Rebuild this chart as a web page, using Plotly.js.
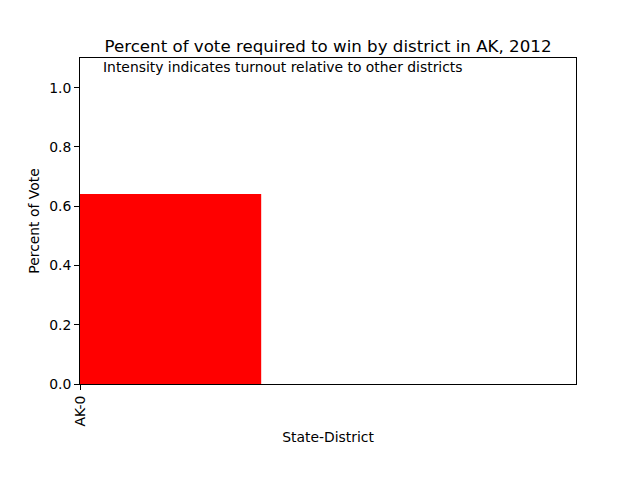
<!DOCTYPE html>
<html>
<head>
<meta charset="utf-8">
<script src="https://cdn.plot.ly/plotly-3.0.1.min.js"></script>
<style>html,body{margin:0;padding:0;background:#fff;}#chart{width:640px;height:480px;}</style>
</head>
<body>
<div id="chart"></div>
<script>
const districts = ['AK-0'];
const positions = [0];
const votePct = [0.641];
const barColors = ['rgb(255,0,0)'];

const barWidth = 0.8;

const trace = {
  type: 'bar',
  x: positions.map(p => p + barWidth / 2),
  y: votePct,
  width: districts.map(() => barWidth),
  marker: {color: barColors, line: {width: 0}},
  hoverinfo: 'skip'
};

const font = {family: 'DejaVu Sans, sans-serif', color: '#000'};
const fs = 13.9;

const layout = {
  width: 640, height: 480,
  margin: {l: 80, r: 64, t: 58, b: 96, pad: 0},
  paper_bgcolor: '#fff', plot_bgcolor: '#fff',
  showlegend: false,
  font: Object.assign({size: fs}, font),
  title: {text: 'Percent of vote required to win by district in AK, 2012',
          font: Object.assign({size: 16.67}, font),
          x: 0.5, xref: 'paper', y: 1, yref: 'paper', yanchor: 'bottom', pad: {b: 6}},
  xaxis: {
    range: [0, 2.19], tickvals: positions, ticktext: districts, tickangle: -90,
    ticks: 'outside', ticklen: 5, tickcolor: '#000', tickwidth: 1,
    showline: true, linecolor: '#000', linewidth: 1, mirror: true,
    showgrid: false, zeroline: false,
    tickfont: Object.assign({size: fs}, font),
    title: {text: 'State-District', font: Object.assign({size: fs}, font), standoff: 6}
  },
  yaxis: {
    range: [0, 1.1], tickvals: [0, 0.2, 0.4, 0.6, 0.8, 1.0], tickformat: '.1f',
    ticks: 'outside', ticklen: 5, tickcolor: '#000', tickwidth: 1,
    showline: true, linecolor: '#000', linewidth: 1, mirror: true,
    showgrid: false, zeroline: false,
    tickfont: Object.assign({size: fs}, font),
    title: {text: 'Percent of Vote', font: Object.assign({size: fs}, font), standoff: 6}
  },
  annotations: [{
    text: 'Intensity indicates turnout relative to other districts',
    xref: 'paper', yref: 'paper', x: 0.042, y: 0.973, xanchor: 'left', yanchor: 'middle',
    showarrow: false, font: Object.assign({size: fs}, font)
  }]
};

Plotly.newPlot('chart', [trace], layout, {displayModeBar: false, staticPlot: true});
</script>
</body>
</html>
